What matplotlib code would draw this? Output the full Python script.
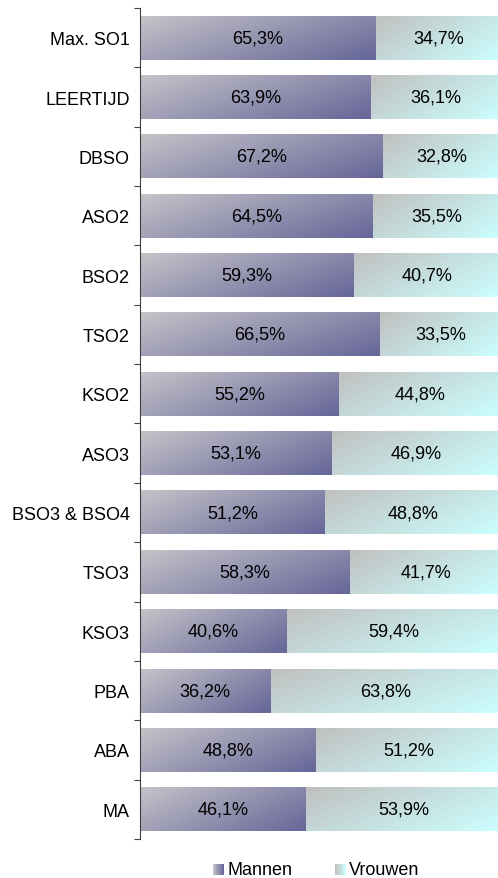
import numpy as np
import matplotlib.pyplot as plt
from matplotlib.colors import LinearSegmentedColormap
from matplotlib.patches import Rectangle
from matplotlib.legend_handler import HandlerBase

categories = ["Max. SO1", "LEERTIJD", "DBSO", "ASO2", "BSO2", "TSO2", "KSO2",
              "ASO3", "BSO3 & BSO4", "TSO3", "KSO3", "PBA", "ABA", "MA"]
mannen = [65.3, 63.9, 67.2, 64.5, 59.3, 66.5, 55.2, 53.1, 51.2, 58.3, 40.6, 36.2, 48.8, 46.1]
vrouwen = [34.7, 36.1, 32.8, 35.5, 40.7, 33.5, 44.8, 46.9, 48.8, 41.7, 59.4, 63.8, 51.2, 53.9]
series = ["Mannen", "Vrouwen"]

# gradient colour pairs (start top-left, end bottom-right)
grad = {
    "Mannen": ("#c4c3c8", "#666699"),
    "Vrouwen": ("#c0c0c0", "#ccffff"),
}

plt.rcParams.update({
    "font.family": ["Liberation Sans", "DejaVu Sans"],
    "font.size": 13,
})

fig = plt.figure(figsize=(4.98, 8.79), dpi=100)
ax = fig.add_axes([0.281, 0.0444, 0.725, 0.9454])

y = np.arange(len(categories))
bars_m = ax.barh(y, mannen, height=0.74, color="none")
bars_v = ax.barh(y, vrouwen, left=mannen, height=0.74, color="none")

# diagonal gradient image
u = np.linspace(0, 1, 128)
vv = np.linspace(0, 1, 32)
U, V = np.meshgrid(u, vv)
G = 0.65 * U + 0.35 * V

for name, bars, vals in [("Mannen", bars_m, mannen), ("Vrouwen", bars_v, vrouwen)]:
    cmap = LinearSegmentedColormap.from_list(name, grad[name])
    for p, val in zip(bars, vals):
        x0, y0 = p.get_x(), p.get_y()
        w, h = p.get_width(), p.get_height()
        # y axis inverted: top row of image at y0
        ax.imshow(G, cmap=cmap, extent=(x0, x0 + w, y0 + h, y0),
                  aspect="auto", interpolation="bilinear", zorder=1)
        ax.text(x0 + w / 2, y0 + h / 2, f"{val:.1f}%".replace(".", ","),
                ha="center", va="center", fontsize=13, zorder=3)

ax.set_xlim(0, 100)
ax.set_ylim(len(categories) - 0.5, -0.5)

# category labels at centres, tick marks at boundaries
ax.set_yticks(np.arange(-0.5, len(categories)), labels=[])
ax.set_yticks(y, labels=categories, minor=True)
ax.tick_params(axis="y", which="major", direction="out", length=4, color="#404040")
ax.tick_params(axis="y", which="minor", length=0, pad=7.5)
ax.set_xticks([])
for s in ["top", "right", "bottom"]:
    ax.spines[s].set_visible(False)
ax.spines["left"].set_color("#404040")


class GradHandler(HandlerBase):
    def __init__(self, c0, c1):
        super().__init__()
        self.cmap = LinearSegmentedColormap.from_list("h", [c0, c1])

    def create_artists(self, legend, orig_handle, xdescent, ydescent,
                       width, height, fontsize, trans):
        n = 10
        side = 8
        x0 = width - side
        arts = []
        for i in range(n):
            arts.append(Rectangle((x0 + i * side / n, -ydescent - 0.5), side / n + 0.05, side,
                                  facecolor=self.cmap(i / (n - 1)), edgecolor="none",
                                  transform=trans))
        return arts


handles = [Rectangle((0, 0), 1, 1) for _ in series]
fig.legend(handles, series, loc="center", bbox_to_anchor=(0.635, 0.0095),
           ncol=2, frameon=False, handlelength=0.62, handletextpad=0.17,
           columnspacing=2.38, fontsize=13,
           handler_map={handles[0]: GradHandler(*grad["Mannen"]),
                        handles[1]: GradHandler(*grad["Vrouwen"])})

fig.savefig("out.png", dpi=100)
